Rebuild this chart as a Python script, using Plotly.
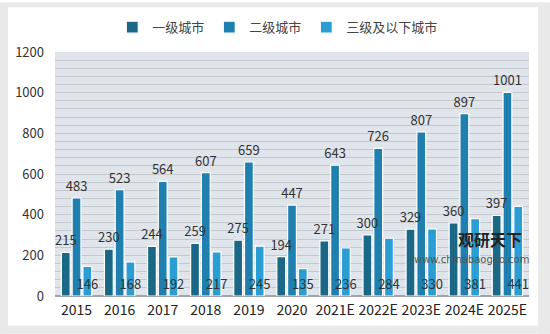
import plotly.graph_objects as go

categories = ["2015", "2016", "2017", "2018", "2019", "2020", "2021E", "2022E", "2023E", "2024E", "2025E"]
tier1 = [215, 230, 244, 259, 275, 194, 271, 300, 329, 360, 397]
tier2 = [483, 523, 564, 607, 659, 447, 643, 726, 807, 897, 1001]
tier3 = [146, 168, 192, 217, 245, 135, 236, 284, 330, 381, 441]
series_names = ["一级城市", "二级城市", "三级及以下城市"]
colors = ["#1b6786", "#1f80b0", "#2a9dd3"]
y_ticks = [0, 200, 400, 600, 800, 1000, 1200]

FONT = "Noto Sans CJK SC, Noto Sans, sans-serif"
W, H = 550, 334
L, R, T, B = 55, 21, 50, 38

series = [tier1, tier2, tier3]
positions = ["outside", "outside", "inside"]

fig = go.Figure()
# coloured bars first
for i, (name, vals, col) in enumerate(zip(series_names, series, colors)):
    fig.add_trace(go.Bar(
        x=categories, y=vals, name=name, offsetgroup=str(i),
        marker=dict(color=col, line=dict(color="white", width=1.2)),
    ))
# transparent twins carrying the labels, drawn on top of all bars
for i, (vals, pos) in enumerate(zip(series, positions)):
    kw = {}
    if pos == "inside":
        kw["insidetextanchor"] = "start"
    fig.add_trace(go.Bar(
        x=categories, y=vals, offsetgroup=str(i), showlegend=False, hoverinfo="skip",
        marker=dict(color="rgba(0,0,0,0)", line=dict(width=0)),
        text=[str(v) for v in vals], textposition=pos, textangle=0, cliponaxis=False,
        textfont=dict(family=FONT, size=13, color="#333333"),
        **kw,
    ))

fig.update_layout(
    width=W, height=H,
    margin=dict(l=L, r=R, t=T, b=B, pad=0),
    barmode="group", bargap=0.25, bargroupgap=0.18,
    paper_bgcolor="white", plot_bgcolor="#e0e5eb",
    font=dict(family=FONT, color="#333333"),
    uniformtext=dict(minsize=13, mode="show"),
    showlegend=True,
    legend=dict(orientation="h", x=0.47, xanchor="center", y=1.0 + (T - 25) / (H - T - B), yanchor="middle",
                bgcolor="white", font=dict(family=FONT, size=13, color="#444444"),
                itemwidth=30, traceorder="normal"),
    xaxis=dict(showgrid=False, showline=False, ticks="", tickfont=dict(family=FONT, size=14, color="#222222"),
               ticklabelstandoff=4),
    yaxis=dict(range=[0, 1200], tickvals=y_ticks, showgrid=True, gridcolor="#c3c8cd", gridwidth=1,
               minor=dict(dtick=40, showgrid=True, gridcolor="#c3c8cd", gridwidth=1),
               zeroline=True, zerolinecolor="#a0a4a8", zerolinewidth=2,
               ticks="", tickfont=dict(family=FONT, size=13, color="#333333"), ticklabelstandoff=10),
)

# outer grey frame around the white card
pw, ph = W - L - R, H - T - B
def px(x):
    return (x - L) / pw
def py(y):
    return (H - B - y) / ph
frame = "#e9e9e9"
for (x0, y0, x1, y1) in [(0, 0, 8, H), (0, 0, W, 5), (538, 0, W, H), (0, 326, W, H)]:
    fig.add_shape(type="rect", xref="paper", yref="paper",
                  x0=px(x0), x1=px(x1), y0=py(y1), y1=py(y0),
                  fillcolor=frame, line=dict(width=0), layer="above")

# watermark
fig.add_annotation(xref="paper", yref="paper", x=px(490), y=py(239), xanchor="center", yanchor="middle",
                   text="<b>观研天下</b>", showarrow=False,
                   font=dict(family=FONT, size=16, color="#222222"))
fig.add_annotation(xref="paper", yref="paper", x=px(471), y=py(259), xanchor="center", yanchor="middle",
                   text="www.chinabaogao.com", showarrow=False,
                   font=dict(family="DejaVu Sans, sans-serif", size=10, color="#555555"))

fig.write_html("out.html")
